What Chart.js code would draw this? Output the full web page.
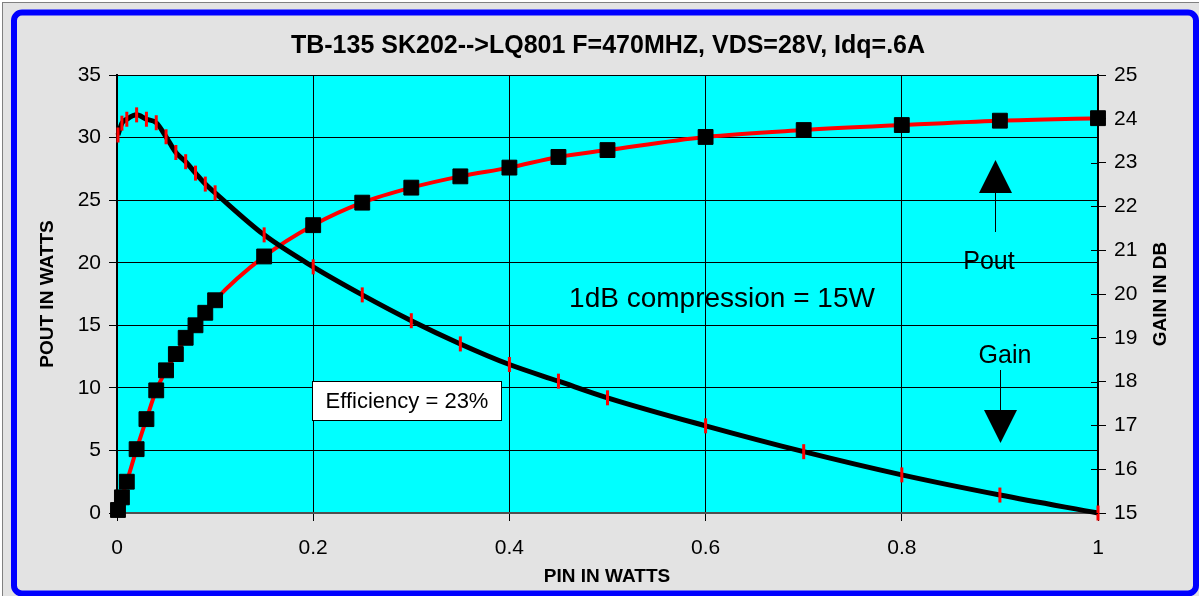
<!DOCTYPE html>
<html>
<head>
<meta charset="utf-8">
<script src="https://cdn.jsdelivr.net/npm/chart.js@4"></script>
<style>
  html, body { margin: 0; padding: 0; background: #ffffff; overflow: hidden; }
  canvas { display: block; }
</style>
</head>
<body>
<canvas id="ampChart" width="1199" height="596"></canvas>
<script>
// input power (W) for every measured point
const pinWatts = [0.001, 0.005, 0.01, 0.02, 0.03, 0.04, 0.05, 0.06, 0.07, 0.08, 0.09, 0.1,
    0.15, 0.2, 0.25, 0.3, 0.35, 0.4, 0.45, 0.5, 0.6, 0.7, 0.8, 0.9, 1.0];
// output power (W), left axis
const poutWatts = [0.24, 1.25, 2.5, 5.1, 7.5, 9.8, 11.4, 12.7, 14.0, 15.0, 16.0, 17.0,
    20.5, 23.0, 24.8, 26.0, 26.9, 27.6, 28.45, 29.0, 30.05, 30.6, 31.0, 31.35, 31.55];
// gain (dB), right axis
const gainDb = [23.63, 23.90, 23.99, 24.09, 23.99, 23.91, 23.59, 23.23, 23.02, 22.76, 22.51, 22.31,
    21.35, 20.62, 19.98, 19.39, 18.86, 18.39, 18.01, 17.63, 16.99, 16.40, 15.87, 15.41, 15.0];

const xTickLabels = ["0", "0.2", "0.4", "0.6", "0.8", "1"];
const chartTitle = "TB-135 SK202-->LQ801 F=470MHZ, VDS=28V, Idq=.6A";

const FONT = "'Liberation Sans', Arial, sans-serif";

const frameAndNotes = {
    id: "frameAndNotes",
    beforeDraw(chart) {
        const ctx = chart.ctx;
        const a = chart.chartArea;
        ctx.save();
        ctx.fillStyle = "#ffffff";
        ctx.fillRect(0, 0, chart.width, chart.height);
        ctx.fillStyle = "#e3e3e3";
        ctx.fillRect(2, 2, chart.width - 2, chart.height - 2);
        ctx.strokeStyle = "#808080";
        ctx.lineWidth = 1;
        ctx.strokeRect(2.5, 2.5, chart.width, chart.height);
        // blue rounded frame
        ctx.strokeStyle = "#0000ff";
        ctx.lineWidth = 6;
        ctx.beginPath();
        ctx.roundRect(14, 12.5, 1182, 581, 8);
        ctx.stroke();
        // plot area
        ctx.fillStyle = "#00ffff";
        ctx.fillRect(a.left, a.top, a.right - a.left, a.bottom - a.top);
        // title
        ctx.fillStyle = "#000";
        ctx.font = "bold 25px " + FONT;
        ctx.textAlign = "center";
        ctx.textBaseline = "middle";
        ctx.fillText(chartTitle, 608, 46);
        ctx.restore();
    },
    afterDraw(chart) {
        const ctx = chart.ctx;
        const a = chart.chartArea;
        ctx.save();
        ctx.fillStyle = "#000";
        ctx.strokeStyle = "#000";

        // inner ticks on the gain axis
        const g = chart.scales.yGain;
        ctx.lineWidth = 1;
        g.ticks.forEach(t => {
            const y = Math.round(g.getPixelForValue(t.value)) + 0.5;
            ctx.beginPath();
            ctx.moveTo(a.right - 7, y); ctx.lineTo(a.right, y); ctx.stroke();
        });

        // axis titles
        ctx.font = "bold 19px " + FONT;
        ctx.textAlign = "center";
        ctx.textBaseline = "middle";
        ctx.fillText("PIN IN WATTS", 607, 577);
        ctx.save();
        ctx.translate(48, 294);
        ctx.rotate(-Math.PI / 2);
        ctx.fillText("POUT IN WATTS", 0, 0);
        ctx.restore();
        ctx.save();
        ctx.translate(1161, 294);
        ctx.rotate(-Math.PI / 2);
        ctx.fillText("GAIN IN DB", 0, 0);
        ctx.restore();

        ctx.textBaseline = "alphabetic";
        ctx.font = "28px " + FONT;
        ctx.fillText("1dB compression = 15W", 722, 307);

        ctx.font = "25px " + FONT;
        ctx.fillText("Pout", 989, 269);
        ctx.fillText("Gain", 1005, 363);

        // up arrow (Pout)
        ctx.lineWidth = 1;
        ctx.beginPath();
        ctx.moveTo(995.5, 190); ctx.lineTo(995.5, 232); ctx.stroke();
        ctx.beginPath();
        ctx.moveTo(995.5, 160); ctx.lineTo(1012, 193); ctx.lineTo(979, 193); ctx.closePath(); ctx.fill();
        // down arrow (Gain)
        ctx.beginPath();
        ctx.moveTo(1000.5, 370); ctx.lineTo(1000.5, 412); ctx.stroke();
        ctx.beginPath();
        ctx.moveTo(984, 410); ctx.lineTo(1017, 410); ctx.lineTo(1000.5, 443); ctx.closePath(); ctx.fill();

        // efficiency box
        ctx.fillStyle = "#ffffff";
        ctx.fillRect(312.5, 381.5, 189, 39);
        ctx.strokeRect(312.5, 381.5, 189, 39);
        ctx.fillStyle = "#000";
        ctx.font = "22px " + FONT;
        ctx.fillText("Efficiency = 23%", 407, 408);
        ctx.restore();
    }
};

new Chart(document.getElementById("ampChart"), {
    type: "scatter",
    data: {
        datasets: [{
            label: "Gain",
            data: pinWatts.map((p, i) => ({ x: p, y: gainDb[i] })),
            yAxisID: "yGain",
            showLine: true,
            cubicInterpolationMode: "monotone",
            borderColor: "#000000",
            borderWidth: 5,
            pointStyle: "line",
            rotation: 90,
            pointRadius: 7.5,
            pointBorderColor: "#ff0000",
            pointBackgroundColor: "#ff0000",
            pointBorderWidth: 3,
            clip: false,
            order: 0
        }, {
            label: "Pout",
            data: pinWatts.map((p, i) => ({ x: p, y: poutWatts[i] })),
            yAxisID: "yPout",
            showLine: true,
            cubicInterpolationMode: "monotone",
            borderColor: "#ff0000",
            borderWidth: 4,
            pointStyle: "rect",
            pointRadius: 10.5,
            pointBorderColor: "#000000",
            pointBackgroundColor: "#000000",
            pointBorderWidth: 1,
            clip: false,
            order: 1
        }]
    },
    options: {
        responsive: false,
        animation: false,
        devicePixelRatio: 1,
        layout: { padding: { left: 0, right: 0, top: 75, bottom: 0 } },
        plugins: {
            legend: { display: false },
            tooltip: { enabled: false },
            title: { display: false }
        },
        scales: {
            x: {
                type: "linear",
                min: 0,
                max: 1,
                afterFit(s) { s.height = 83; },
                afterBuildTicks(s) { s.ticks = xTickLabels.map(t => ({ value: parseFloat(t) })); },
                ticks: {
                    color: "#000",
                    font: { family: FONT, size: 21 },
                    padding: 15,
                    maxRotation: 0,
                    callback: (v) => xTickLabels.find(t => parseFloat(t) === v)
                },
                grid: { color: "#000", lineWidth: 1, tickLength: 8 },
                border: { color: "#505050", width: 2 }
            },
            yPout: {
                position: "left",
                min: 0,
                max: 35,
                afterFit(s) { s.width = 117; },
                ticks: {
                    stepSize: 5,
                    color: "#000",
                    font: { family: FONT, size: 21 },
                    padding: 8
                },
                grid: { color: "#000", lineWidth: 1, tickLength: 8 },
                border: { color: "#000", width: 2 }
            },
            yGain: {
                position: "right",
                min: 15,
                max: 25,
                afterFit(s) { s.width = 101; },
                ticks: {
                    stepSize: 1,
                    color: "#000",
                    font: { family: FONT, size: 21 },
                    padding: 8
                },
                grid: { drawOnChartArea: false, color: "#000", lineWidth: 1, tickLength: 8 },
                border: { color: "#000", width: 2 }
            }
        }
    },
    plugins: [frameAndNotes]
});
</script>
</body>
</html>
